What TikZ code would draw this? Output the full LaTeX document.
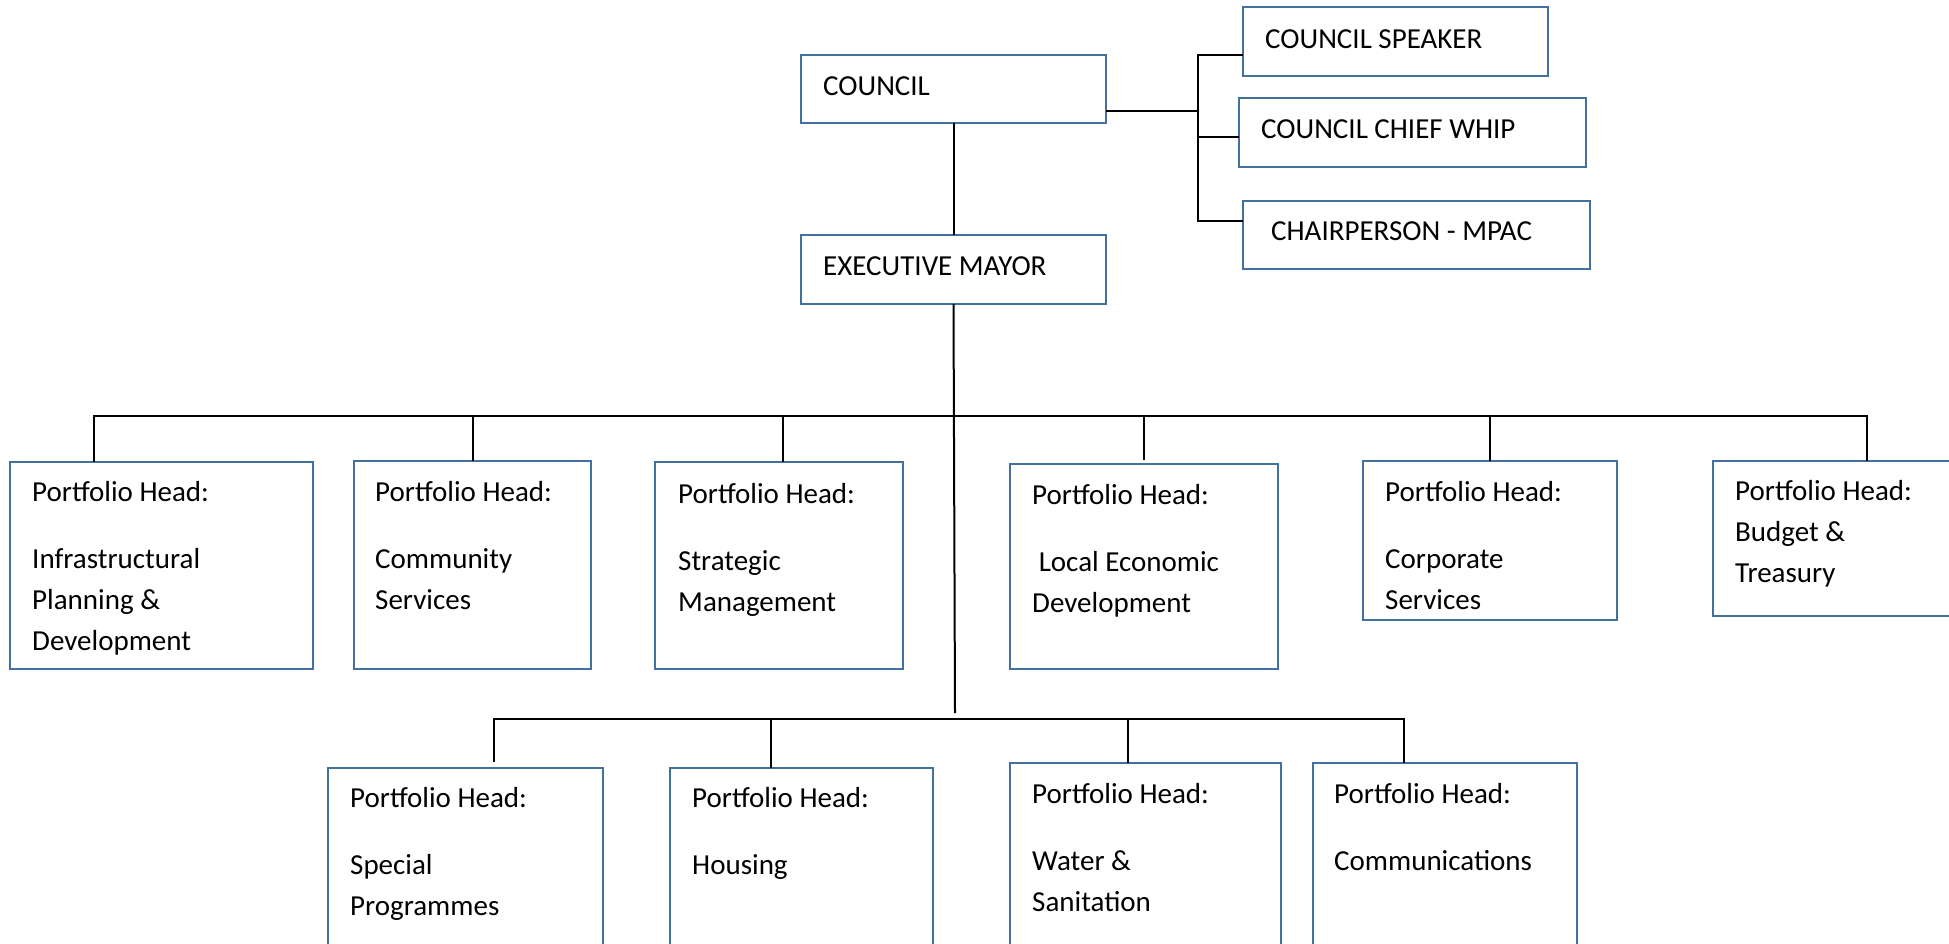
\documentclass[tikz,border=0pt]{standalone}
\usepackage{fontspec}
\setmainfont{Carlito}
\usetikzlibrary{calc}
\definecolor{boxblue}{HTML}{41719C}

\tikzset{
  post/.style={draw=boxblue, line width=2.8pt, inner sep=0pt, outer sep=0pt},
  txt/.style={anchor=north west, align=left, inner sep=0pt, font=\fontsize{29}{41}\selectfont},
  link/.style={line width=2pt}
}

\begin{document}
\begin{tikzpicture}[x=1pt,y=-1pt]
\useasboundingbox (0,0) rectangle (1949,944);

% top of the chart
\node[post, minimum width=305, minimum height=68] (council) at (953.5,89) {};
\node[txt] at ([shift={(22,11.5)}]council.north west) {\strut COUNCIL};
\node[post, minimum width=305, minimum height=69] (mayor) at (953.5,269.5) {};
\node[txt] at ([shift={(22,11.5)}]mayor.north west) {\strut EXECUTIVE MAYOR};

% council offices
\node[post, minimum width=305, minimum height=69] (speaker) at (1395.5,41.5) {};
\node[txt] at ([shift={(22,12.5)}]speaker.north west) {\strut COUNCIL SPEAKER};
\node[post, minimum width=347, minimum height=69] (whip) at (1412.5,132.5) {};
\node[txt] at ([shift={(22,11.5)}]whip.north west) {\strut COUNCIL CHIEF WHIP};
\node[post, minimum width=347, minimum height=68] (chair) at (1416.5,235) {};
\node[txt] at ([shift={(28,10.5)}]chair.north west) {\strut CHAIRPERSON - MPAC};

% first row of portfolios
\node[post, minimum width=303, minimum height=207] (infra) at (161.5,565.5) {};
\node[txt] at ([shift={(22,10.5)}]infra.north west) {\strut Portfolio Head:\\[26pt]Infrastructural\\Planning \&\\Development};
\node[post, minimum width=237, minimum height=208] (community) at (472.5,565) {};
\node[txt] at ([shift={(21,11.5)}]community.north west) {\strut Portfolio Head:\\[26pt]Community\\Services};
\node[post, minimum width=248, minimum height=207] (strategic) at (779,565.5) {};
\node[txt] at ([shift={(23,12.5)}]strategic.north west) {\strut Portfolio Head:\\[26pt]Strategic\\Management};
\node[post, minimum width=268, minimum height=205] (led) at (1144,566.5) {};
\node[txt] at ([shift={(22,11.5)}]led.north west) {\strut Portfolio Head:\\[26pt]\ Local Economic\\Development};
\node[post, minimum width=254, minimum height=159] (corporate) at (1490,540.5) {};
\node[txt] at ([shift={(22,11.5)}]corporate.north west) {\strut Portfolio Head:\\[26pt]Corporate\\Services};
\node[post, minimum width=247, minimum height=155] (budget) at (1836.5,538.5) {};
\node[txt] at ([shift={(22,10.5)}]budget.north west) {\strut Portfolio Head:\\Budget \&\\Treasury};

% second row of portfolios
\node[post, minimum width=275, minimum height=192] (special) at (465.5,864) {};
\node[txt] at ([shift={(22,10.5)}]special.north west) {\strut Portfolio Head:\\[26pt]Special\\Programmes};
\node[post, minimum width=263, minimum height=192] (housing) at (801.5,864) {};
\node[txt] at ([shift={(22,10.5)}]housing.north west) {\strut Portfolio Head:\\[26pt]Housing};
\node[post, minimum width=271, minimum height=197] (water) at (1145.5,861.5) {};
\node[txt] at ([shift={(22,11.5)}]water.north west) {\strut Portfolio Head:\\[26pt]Water \&\\Sanitation};
\node[post, minimum width=264, minimum height=197] (comms) at (1445,861.5) {};
\node[txt] at ([shift={(21,11.5)}]comms.north west) {\strut Portfolio Head:\\[26pt]Communications};

% connectors
\coordinate (side) at (1198,111);
\coordinate (topbus) at (955,416);
\coordinate (lowbus) at (955,719);
\draw[link] (council.south) -- (mayor.north);
\draw[link] (mayor.south) -- ([yshift=6pt]lowbus);
\draw[link] ([yshift=-22pt]council.east) -- (side);
\draw[link] ([yshift=-13.5pt]speaker.west) -| (side);
\draw[link] ([yshift=-4.5pt]whip.west) -| (side);
\draw[link] ([yshift=14pt]chair.west) -| (side);

\draw[link] ([xshift=84]infra.north west) |- (topbus) -| ([xshift=154]budget.north west);
\draw[link] (community.north) -- (community.north |- topbus);
\draw[link] ([xshift=128]strategic.north west) -- ([xshift=128]strategic.north west |- topbus);
\draw[link] ([yshift=4pt]led.north) -- (led.north |- topbus);
\draw[link] (corporate.north) -- (corporate.north |- topbus);

\draw[link] ([shift={(166,-6)}]special.north west) |- (lowbus) -| ([shift={(91,0)}]comms.north west);
\draw[link] ([shift={(101,-6)}]housing.north west) -- (housing.north west -| 771,0) |- (lowbus);
\draw[link] ([xshift=118]water.north west) -- ([xshift=118]water.north west |- lowbus);
\end{tikzpicture}
\end{document}
